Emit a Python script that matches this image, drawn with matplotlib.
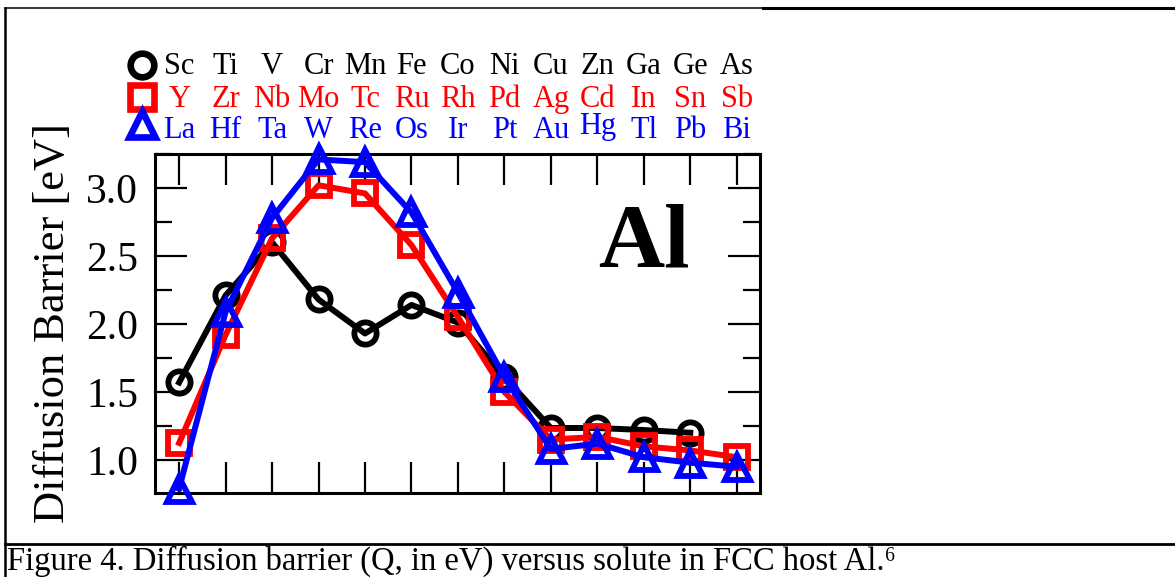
import matplotlib
matplotlib.use('Agg')
import matplotlib.pyplot as plt
from matplotlib.lines import Line2D
from matplotlib.ticker import MultipleLocator

plt.rcParams['font.family'] = ['Liberation Serif', 'DejaVu Serif']

# solutes per row of the periodic table (3d, 4d, 5d)
row3d = ['Sc', 'Ti', 'V', 'Cr', 'Mn', 'Fe', 'Co', 'Ni', 'Cu', 'Zn', 'Ga', 'Ge', 'As']
row4d = ['Y', 'Zr', 'Nb', 'Mo', 'Tc', 'Ru', 'Rh', 'Pd', 'Ag', 'Cd', 'In', 'Sn', 'Sb']
row5d = ['La', 'Hf', 'Ta', 'W', 'Re', 'Os', 'Ir', 'Pt', 'Au', 'Hg', 'Tl', 'Pb', 'Bi']

# diffusion barrier in eV (no As value for the 3d row)
q3d = [1.57, 2.21, 2.60, 2.18, 1.93, 2.14, 2.01, 1.61, 1.235, 1.235, 1.22, 1.20]
q4d = [1.125, 1.92, 2.63, 3.02, 2.96, 2.58, 2.05, 1.50, 1.15, 1.17, 1.10, 1.07, 1.02]
q5d = [0.79, 2.09, 2.78, 3.21, 3.19, 2.82, 2.23, 1.61, 1.08, 1.12, 1.02, 0.98, 0.95]

host = 'Al'
caption = 'Figure 4. Diffusion barrier (Q, in eV) versus solute in FCC host Al.\u2076'

fig = plt.figure(figsize=(11.75, 5.77), dpi=100)
ax = fig.add_axes([0.1319, 0.1456, 0.5149, 0.5875])

series = [(q3d, row3d, 'black', 'o', 16), (q4d, row4d, 'red', 's', 16), (q5d, row5d, 'blue', '^', 18)]
for i, (vals, names, col, mk, ms) in enumerate(series):
    ax.plot(range(len(vals)), vals, color=col, lw=4.3, marker=mk, ms=ms,
            mfc='none', mec=col, mew=4.2, zorder=2 + i, clip_on=False)

ax.set_xlim(-0.52, 12.5)
ax.set_ylim(0.757, 3.25)
ax.set_xticks(range(13))
ax.set_xticklabels([])
ax.yaxis.set_major_locator(MultipleLocator(0.5))
ax.yaxis.set_minor_locator(MultipleLocator(0.25))
ax.set_yticks([1.0, 1.5, 2.0, 2.5, 3.0])
ax.tick_params(axis='both', which='both', direction='in', top=True, right=True, width=1.6)
ax.tick_params(axis='x', which='major', length=22)
ax.tick_params(axis='y', which='major', length=23, labelsize=30, pad=12)
ax.tick_params(axis='y', which='minor', length=12)
for sp in ax.spines.values():
    sp.set_linewidth(2.2)
ax.set_ylabel('Diffusion Barrier [eV]', fontsize=32)
ax.yaxis.set_label_coords(-0.135, 0.5)

ax.text(10, 2.42, host, fontsize=66, fontweight='bold', ha='center', va='baseline')

# element labels above the frame
tr = ax.get_xaxis_transform()
rows_y = [1.236, 1.139, 1.047]
for (vals, names, col, mk, ms), ry in zip(series, rows_y):
    for j, nm in enumerate(names):
        yy = ry + 0.013 if nm == 'Hg' else ry
        ax.text(j, yy, nm, color=col, fontsize=22, ha='center', va='baseline',
                transform=tr, clip_on=False)
leg_y = [1.263, 1.168, 1.088]
for (vals, names, col, mk, ms), ly in zip(series, leg_y):
    ax.plot([-0.79], [ly], marker=mk, ms=ms + 1, mfc='none', mec=col, mew=4.8,
            transform=tr, clip_on=False, ls='none')

# page frame and caption
fig.add_artist(Line2D([0.00426, 0.00426], [0.0, 0.9861], color='black', lw=1.8, transform=fig.transFigure))
fig.add_artist(Line2D([0.00426, 0.649], [0.9861, 0.9861], color='black', lw=1.1, transform=fig.transFigure))
fig.add_artist(Line2D([0.649, 1.0], [0.9861, 0.9861], color='black', lw=2.2, transform=fig.transFigure))
fig.add_artist(Line2D([0.00426, 1.0], [0.0572, 0.0572], color='black', lw=2.0, transform=fig.transFigure))
fig.text(0.0062, 0.0125, caption, fontsize=23.5, ha='left', va='baseline')

fig.savefig('out.png', dpi=100)
